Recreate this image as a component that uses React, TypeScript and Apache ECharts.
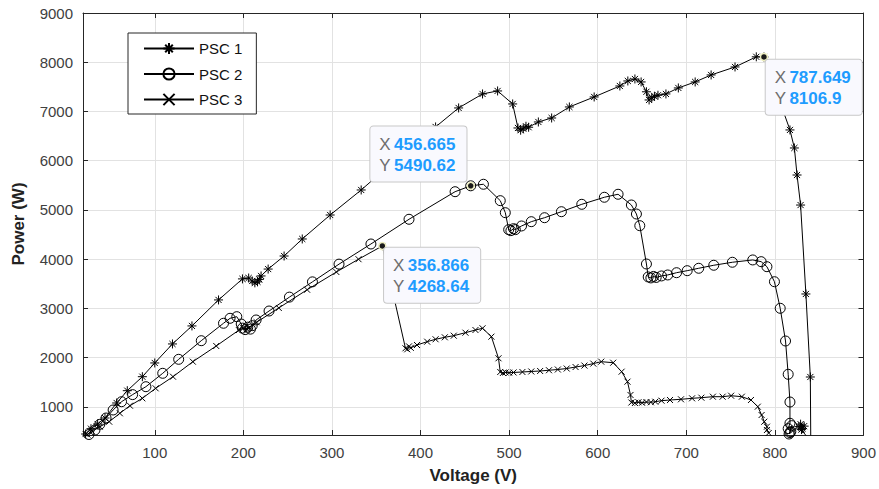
import React, { useEffect, useRef } from "react";
import * as echarts from "echarts";

const seriesNames = ["PSC 1", "PSC 2", "PSC 3"];

const psc1: number[][] = [
  [22, 450], [28, 558], [35.5, 653], [43.8, 775], [57, 1080], [69, 1330], [86, 1614], [100, 1893],
  [120, 2279], [142, 2645], [172, 3173], [199, 3600], [206, 3618], [210, 3558], [213, 3520], [216, 3540],
  [218, 3590], [220, 3660], [228, 3800], [246, 4065], [266.5, 4411], [298, 4898], [333, 5406], [368, 5955],
  [398, 6462], [417, 6686], [443, 7072], [470, 7356], [487, 7417], [504, 7153], [510, 6665], [513, 6620],
  [516, 6650], [519, 6700], [522, 6680], [533, 6787], [548, 6868], [568, 7092], [596, 7295], [625, 7518],
  [634, 7620], [642, 7660], [649, 7600], [655, 7400], [658, 7234], [661, 7280], [664, 7310], [668, 7330],
  [677, 7356], [691, 7478], [710, 7600], [728, 7742], [755, 7904], [779, 8110], [787.649, 8106.9],
  [817, 6625], [822, 6259], [825, 5710], [829, 5100], [835, 3294], [840, 1608], [840.5, 300],
  [827, 600], [830, 540], [833, 610], [829, 650], [831, 560],
];

const psc2: number[][] = [
  [25.7, 440], [32.5, 531], [38, 647], [45, 775], [53, 938], [62.5, 1106], [75, 1250], [90, 1411],
  [109, 1683], [127, 1967], [152.5, 2345], [177.6, 2699], [185, 2800], [192.6, 2833], [197.6, 2684],
  [199, 2600], [202, 2570], [205, 2620], [208, 2580], [210, 2650], [214.4, 2766], [229, 2948], [252, 3230],
  [278, 3540], [308, 3900], [344, 4309], [387, 4811], [439, 5371], [456.665, 5490.62], [471, 5522],
  [490, 5189], [495.7, 4945], [499.5, 4600], [502, 4580], [505, 4620], [507, 4600], [514, 4675],
  [525, 4762], [540, 4843], [559, 4965], [582, 5115], [607.5, 5258], [623, 5319], [638, 5101],
  [643.7, 4918], [647.5, 4681], [655, 3903], [657, 3640], [660, 3620], [663, 3650], [666, 3630],
  [672, 3660], [679, 3680], [689, 3726], [701, 3767], [714, 3816], [731, 3877], [752, 3938], [775, 3985],
  [784.5, 3950], [791, 3848], [799.5, 3543], [806, 3003], [812, 2339], [815, 1663], [817, 1100],
  [817, 668], [815, 560], [818, 500], [816, 450], [819, 620], [817, 480],
];

const psc3: number[][] = [
  [24, 440], [28.8, 517], [38, 599], [48.6, 700], [60.6, 871], [72, 1025], [86, 1175], [101, 1378],
  [120.6, 1614], [143, 1919], [169.4, 2238], [195, 2560], [200, 2600], [204, 2580], [207, 2620],
  [215, 2720], [240, 3010], [272, 3380], [305, 3740], [330, 4000], [356.866, 4268.64], [383, 2191],
  [385, 2170], [387, 2230], [389, 2200], [396, 2258], [407.5, 2325], [417, 2374], [427.4, 2414],
  [437.5, 2447], [450.7, 2508], [462, 2562], [470, 2597], [480, 2427], [488, 1988], [490, 1710],
  [493, 1690], [496, 1700], [500, 1695], [505, 1700], [515, 1710], [525, 1720], [535, 1730], [545, 1745],
  [555, 1760], [565, 1780], [575, 1810], [585, 1840], [595, 1880], [604, 1919], [617.5, 1898],
  [627, 1716], [633.6, 1513], [637, 1243], [638, 1090], [642, 1080], [646, 1095], [650, 1085],
  [655, 1100], [660, 1095], [665, 1106], [672, 1127], [681.6, 1141], [694, 1155], [706.5, 1175],
  [717, 1188], [730, 1208], [741, 1208], [750.6, 1228], [762.7, 1208], [773, 1141], [780.7, 1005],
  [785, 836], [788, 700], [791, 599], [791, 531], [793, 470],
];

// data tips: [voltage, power]
const tip1 = [787.649, 8106.9];
const tip2 = [456.665, 5490.62];
const tip3 = [356.866, 4268.64];

const xTicks = [100, 200, 300, 400, 500, 600, 700, 800, 900];
const yTicks = [1000, 2000, 3000, 4000, 5000, 6000, 7000, 8000, 9000];
const xRange = [19, 900];
const yRange = [430, 9000];

const FONT = "'Liberation Sans', Arial, Helvetica, sans-serif";
const AXIS_COLOR = "#262626";

const STAR = "path://M5,0L5,10M0,5L10,5M1.6,1.6L8.4,8.4M8.4,1.6L1.6,8.4";
const CIRCLE = "path://M10,5A5,5,0,1,1,0,5A5,5,0,1,1,10,5Z";
const CROSS = "path://M0,0L10,10M10,0L0,10";

function tipLabel(p: number[], pos: number[], align: string, vAlign: string) {
  return {
    show: true,
    position: pos,
    align,
    verticalAlign: vAlign,
    formatter: `{k|X} {v|${p[0]}}\n{k|Y} {v|${p[1]}}`,
    backgroundColor: "#f9f9fe",
    borderColor: "#c8c8c8",
    borderWidth: 1,
    borderRadius: 3,
    padding: [7, 11, 6, 9],
    rich: {
      k: { color: "#6e6e6e", fontSize: 17, lineHeight: 21, fontFamily: FONT },
      v: { color: "#1e9cff", fontSize: 17, lineHeight: 21, fontWeight: "bold", fontFamily: FONT },
    },
  };
}

function tipPoint(p: number[], pos: number[], align: string, vAlign: string) {
  return {
    z: 20,
    symbol: "circle",
    symbolSize: 7,
    silent: true,
    itemStyle: { color: "#1a1a1a", borderColor: "#eeeec0", borderWidth: 1.5 },
    data: [{ coord: p, label: tipLabel(p, pos, align, vAlign) }],
  };
}

function lineSeries(name: string, data: number[][], symbol: string, size: number, mp: any) {
  return {
    name,
    type: "line",
    data,
    symbol,
    symbolSize: size,
    showAllSymbol: true,
    clip: true,
    lineStyle: { color: "#000", width: 1 },
    itemStyle: { color: "rgba(0,0,0,0)", borderColor: "#000", borderWidth: 1 },
    emphasis: { disabled: true },
    markPoint: mp,
    z: 3,
  };
}

const plain = (v: number) => String(v);

export default function App() {
  const ref = useRef<HTMLDivElement>(null);

  useEffect(() => {
    document.body.style.margin = "0";
    if (!ref.current) return;
    const chart = echarts.init(ref.current, undefined, { renderer: "svg" });

    const axisCommon = {
      type: "value",
      axisLine: { show: true, onZero: false, lineStyle: { color: AXIS_COLOR, width: 1 } },
    };

    chart.setOption({
      animation: false,
      backgroundColor: "#fff",
      grid: { left: 83, right: 13, top: 13, bottom: 54, containLabel: false },
      legend: {
        orient: "vertical",
        left: 128,
        top: 33,
        padding: [8, 14, 7, 15],
        itemWidth: 50,
        itemHeight: 14,
        itemGap: 10.5,
        backgroundColor: "#fff",
        borderColor: AXIS_COLOR,
        borderWidth: 1,
        textStyle: { fontFamily: FONT, fontSize: 15, color: "#111" },
        data: seriesNames,
      },
      xAxis: [
        {
          ...axisCommon,
          position: "bottom",
          min: xRange[0],
          max: xRange[1],
          name: "Voltage (V)",
          nameLocation: "middle",
          nameGap: 32,
          nameTextStyle: { fontFamily: FONT, fontSize: 17, fontWeight: "bold", color: "#222" },
          axisTick: { show: true, inside: true, length: 5, customValues: xTicks, lineStyle: { color: AXIS_COLOR } },
          axisLabel: { customValues: xTicks, formatter: plain, fontFamily: FONT, fontSize: 15, color: "#404040", margin: 10 },
          splitLine: { show: true, lineStyle: { color: "#e2e2e2", width: 1 } },
        },
        {
          ...axisCommon,
          position: "top",
          min: xRange[0],
          max: xRange[1],
          axisTick: { show: true, inside: true, length: 5, customValues: xTicks, lineStyle: { color: AXIS_COLOR } },
          axisLabel: { show: false },
          splitLine: { show: false },
        },
      ],
      yAxis: [
        {
          ...axisCommon,
          position: "left",
          min: yRange[0],
          max: yRange[1],
          name: "Power (W)",
          nameLocation: "middle",
          nameGap: 56,
          nameTextStyle: { fontFamily: FONT, fontSize: 17, fontWeight: "bold", color: "#222" },
          axisTick: { show: true, inside: true, length: 5, customValues: yTicks, lineStyle: { color: AXIS_COLOR } },
          axisLabel: { customValues: yTicks, formatter: plain, fontFamily: FONT, fontSize: 15, color: "#404040", margin: 10 },
          splitLine: { show: true, lineStyle: { color: "#e2e2e2", width: 1 } },
        },
        {
          ...axisCommon,
          position: "right",
          min: yRange[0],
          max: yRange[1],
          axisTick: { show: true, inside: true, length: 5, customValues: yTicks, lineStyle: { color: AXIS_COLOR } },
          axisLabel: { show: false },
          splitLine: { show: false },
        },
      ],
      series: [
        lineSeries(seriesNames[0], psc1, STAR, 9, tipPoint(tip1, [6, 7], "left", "top")),
        lineSeries(seriesNames[1], psc2, CIRCLE, 10, tipPoint(tip2, [0, 0], "right", "bottom")),
        lineSeries(seriesNames[2], psc3, CROSS, 6, tipPoint(tip3, [6, 6], "left", "top")),
      ],
    });

    return () => chart.dispose();
  }, []);

  return <div ref={ref} style={{ width: 879, height: 489 }} />;
}
